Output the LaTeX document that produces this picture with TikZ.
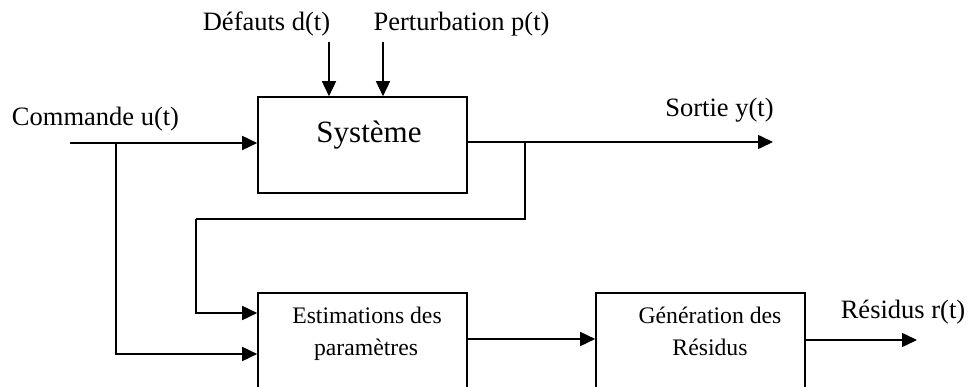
\documentclass[tikz,border=0pt]{standalone}
\usepackage{fontspec}
\setmainfont{Liberation Serif}
\usetikzlibrary{arrows.meta}
\begin{document}
\begin{tikzpicture}[x=1pt,y=-1pt,
  block/.style={draw=black,line width=1.6pt,fill=none,minimum width=209pt,inner sep=0pt},
  wire/.style={draw=black,line width=1.6pt},
  flow/.style={wire,-{Triangle[length=15pt,width=14pt]}},
  lbl/.style={anchor=base,inner sep=0pt,font=\fontsize{26.5}{30}\selectfont},
  txt/.style={anchor=base,inner sep=0pt,font=\fontsize{23.7}{27}\selectfont},
  bigtxt/.style={anchor=base,inner sep=0pt,font=\fontsize{31}{35}\selectfont}]
\useasboundingbox (0,0) rectangle (970,387);
\clip (0,0) rectangle (970,387);

% blocks
\node[block,minimum height=96pt] (sys) at (362.5,145) {};
\node[block,minimum height=120pt] (est) at (362.5,353) {};
\node[block,minimum height=120pt] (gen) at (700.5,353) {};

% block texts
\node[bigtxt] (systxt) at (369,143) {Système};
\node[txt] (esttxt1) at (367,324) {Estimations des};
\node[txt] (esttxt2) at (366,356) {paramètres};
\node[txt] (gentxt1) at (710,324) {Génération des};
\node[txt] (gentxt2) at (710,356) {Résidus};

% signal labels
\node[lbl] (ulbl) at (95.5,126) {Commande u(t)};
\node[lbl] (dlbl) at (266.5,31) {Défauts d(t)};
\node[lbl] (plbl) at (461.5,31) {Perturbation p(t)};
\node[lbl] (ylbl) at (719.5,117) {Sortie y(t)};
\node[lbl] (rlbl) at (903,319) {Résidus r(t)};

% wire end points
\coordinate (uin) at (70,143);
\coordinate (ubr) at (116,143);
\coordinate (dtop) at (329,42);
\coordinate (ptop) at (383,42);
\coordinate (ybr) at (525,142);
\coordinate (yout) at (773,142);
\coordinate (fbl) at (196,219);
\coordinate (rout) at (917,340);

% input u(t) and its branch to the estimator
\draw[flow] (uin) -- (uin -| sys.west);
\draw[flow] (ubr) |- (est.west |- 0,354);
% faults and disturbances
\draw[flow] (dtop) -- (dtop |- sys.north);
\draw[flow] (ptop) -- (ptop |- sys.north);
% output y(t) and feedback to the estimator
\draw[flow] (ybr -| sys.east) -- (yout);
\draw[wire] (ybr) |- (fbl);
\draw[flow] (fbl) |- (est.west |- 0,313);
% estimator to residual generator, and residual output
\draw[flow] (est.east |- 0,339) -- (gen.west |- 0,339);
\draw[flow] (gen.east |- rout) -- (rout);
\end{tikzpicture}
\end{document}
